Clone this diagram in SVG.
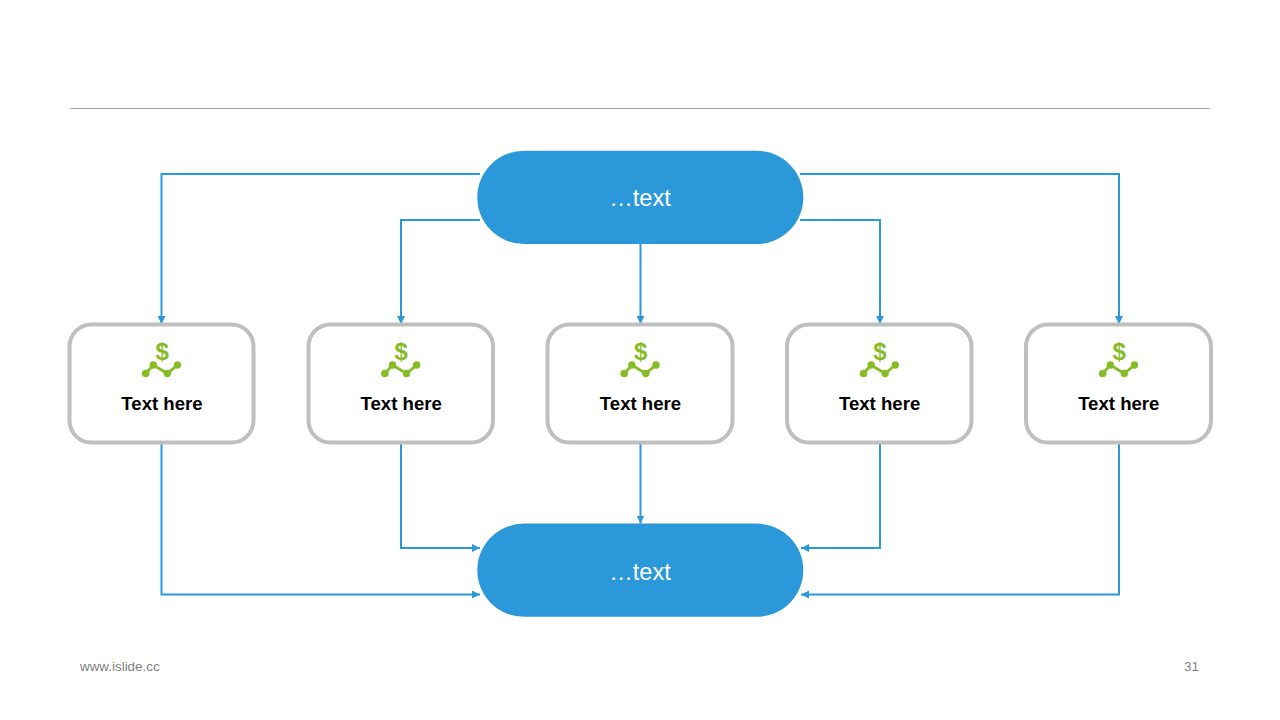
<svg xmlns="http://www.w3.org/2000/svg" width="1280" height="720" viewBox="0 0 1280 720">
<style>
.conn{fill:none;stroke:#2b99d9;stroke-width:2}
.pill{fill:#2b99d9}
.box{fill:#fff;stroke:#bfbfbf;stroke-width:4}
.pt{font-family:"Liberation Sans",Arial,sans-serif;font-size:23.6px;fill:#fff;text-anchor:middle}
.bt{font-family:"Liberation Sans",Arial,sans-serif;font-size:18.6px;font-weight:700;fill:#000;text-anchor:middle}
.ic{font-family:"Liberation Sans",Arial,sans-serif;font-size:24px;font-weight:700;fill:#86bc25;text-anchor:middle}
.ft{font-family:"Liberation Sans",Arial,sans-serif;font-size:13.4px;fill:#7f7f7f}
.il{fill:none;stroke:#86bc25;stroke-width:2.8}
.id{fill:#86bc25}
</style>
<defs>
<marker id="a" markerUnits="userSpaceOnUse" markerWidth="9" markerHeight="8" refX="8" refY="4" orient="auto"><path d="M0 0L8 4L0 8Z" fill="#2b99d9"/></marker>
<g id="icon">
<text class="ic" x="0.600" y="359.500">$</text>
<path class="il" d="M-15.800 373.500L-8.200 365L5.800 373.500L16 365"/>
<circle class="id" cx="-15.800" cy="373.500" r="3.800"/>
<circle class="id" cx="-8.200" cy="365" r="3.700"/>
<circle class="id" cx="5.800" cy="373.500" r="3.700"/>
<circle class="id" cx="16" cy="365" r="3.700"/>
</g>
</defs>
<rect width="1280" height="720" fill="#fff"/>
<path d="M70 108.500H1210" stroke="#a6a6a6" stroke-width="1" fill="none"/>
<g id="connectors">
<path class="conn" marker-end="url(#a)" d="M480 174H161.500V324"/>
<path class="conn" marker-end="url(#a)" d="M480 220H401V324"/>
<path class="conn" marker-end="url(#a)" d="M640.500 244V324"/>
<path class="conn" marker-end="url(#a)" d="M800 220H880V324"/>
<path class="conn" marker-end="url(#a)" d="M800 174H1119V324"/>
<path class="conn" marker-end="url(#a)" d="M161.500 443V594.500H480"/>
<path class="conn" marker-end="url(#a)" d="M401 443V548H480"/>
<path class="conn" marker-end="url(#a)" d="M640.500 443V523.500"/>
<path class="conn" marker-end="url(#a)" d="M880 443V548H801"/>
<path class="conn" marker-end="url(#a)" d="M1119 443V594.500H801"/>
</g>
<g id="top"><rect class="pill" x="477.300" y="150.800" width="326" height="93.200" rx="46.600"/><text class="pt" x="640" y="206">…text</text></g>
<g id="bottom"><rect class="pill" x="477.300" y="523.600" width="326" height="93.200" rx="46.600"/><text class="pt" x="640" y="579.500">…text</text></g>
<g id="n1"><rect class="box" x="69.500" y="324.500" width="184" height="118" rx="22"/><use href="#icon" x="161.500"/><text class="bt" x="162" y="410">Text here</text></g>
<g id="n2"><rect class="box" x="308.500" y="324.500" width="184.500" height="118" rx="22"/><use href="#icon" x="400.700"/><text class="bt" x="401.200" y="410">Text here</text></g>
<g id="n3"><rect class="box" x="547.500" y="324.500" width="185" height="118" rx="22"/><use href="#icon" x="640"/><text class="bt" x="640.500" y="410">Text here</text></g>
<g id="n4"><rect class="box" x="787" y="324.500" width="184.500" height="118" rx="22"/><use href="#icon" x="879.300"/><text class="bt" x="879.600" y="410">Text here</text></g>
<g id="n5"><rect class="box" x="1026" y="324.500" width="185" height="118" rx="22"/><use href="#icon" x="1118.500"/><text class="bt" x="1118.800" y="410">Text here</text></g>
<text class="ft" x="80" y="670.500">www.islide.cc</text>
<text class="ft" x="1199" y="670.500" text-anchor="end">31</text>
</svg>
